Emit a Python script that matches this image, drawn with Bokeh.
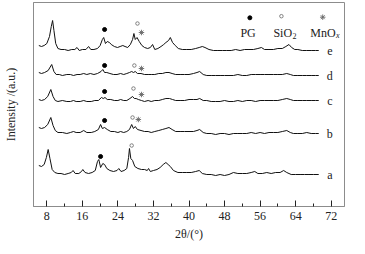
from bokeh.plotting import figure
from bokeh.models import FixedTicker, ColumnDataSource
from bokeh.core.properties import value
from bokeh.embed import file_html
from bokeh.resources import INLINE

# ---- data (2theta in degrees, intensity in a.u., curves stacked) ----
tt_a = [6.2, 6.8, 7.4, 7.9, 8.3, 8.7, 9.2, 9.8, 10.5, 11.2, 12.0, 12.8, 13.5, 13.9, 14.4, 15.2,
        15.8, 16.1, 16.6, 17.4, 18.2, 18.9, 19.4, 19.7, 20.1, 20.6, 21.0, 21.5, 22.2, 23.0, 23.8,
        24.2, 24.7, 25.4, 26.0, 26.4, 26.6, 26.9, 27.3, 27.8, 28.5, 29.3, 30.0, 30.6, 30.9, 31.3,
        32.0, 32.8, 33.5, 34.2, 34.8, 35.3, 35.8, 36.5, 37.5, 38.5, 39.5, 40.5, 41.5, 42.3, 43.0,
        44.0, 45.0, 46.0, 47.0, 48.0, 49.0, 50.0, 51.0, 52.0, 53.0, 54.0, 54.8, 55.5, 56.5, 57.5,
        58.5, 59.5, 60.5, 61.3, 62.0, 63.0, 64.0, 65.0, 66.0, 67.0, 68.0, 69.2]
int_a = [41, 40, 42, 49, 57, 48, 37, 34, 33, 33, 32, 33, 34, 36, 33, 33,
         35, 37, 34, 33, 34, 36, 45, 47, 39, 43, 42, 38, 36, 35, 36,
         38, 35, 36, 38, 49, 58, 48, 46, 40, 38, 37, 37, 36, 38, 35,
         36, 37, 39, 42, 44, 42, 40, 36, 34, 34, 34, 34, 35, 36, 33,
         32, 32, 31, 32, 31, 32, 34, 33, 33, 33, 34, 35, 33, 33, 34,
         33, 34, 34, 36, 34, 32, 32, 32, 32, 32, 32, 32]

tt_b = [6.2, 6.8, 7.5, 8.2, 8.9, 9.4, 9.9, 10.5, 11.5, 12.5, 13.3, 14.0, 14.6, 15.5, 16.3, 17.0,
        18.0, 18.8, 19.6, 20.1, 20.5, 21.0, 21.6, 22.4, 23.2, 24.0, 24.6, 25.3, 26.0, 26.6, 27.1,
        27.5, 27.9, 28.4, 29.2, 30.0, 30.8, 31.5, 32.3, 33.2, 34.0, 34.8, 35.5, 36.2, 37.0, 38.0,
        39.0, 40.0, 41.0, 41.8, 42.4, 43.2, 44.0, 45.0, 46.0, 47.0, 48.0, 49.0, 50.0, 51.0, 52.0,
        53.0, 54.0, 55.0, 56.0, 57.0, 58.0, 59.0, 60.0, 61.0, 62.0, 62.8, 63.5, 64.5, 65.5, 66.5,
        67.5, 68.5, 69.2]
int_b = [79, 78, 79, 82, 89, 81, 76, 74, 74, 73, 74, 75, 74, 74, 76, 74,
         74, 75, 77, 82, 78, 79, 77, 75, 75, 74, 75, 74, 75, 77, 82,
         78, 80, 77, 76, 75, 75, 74, 75, 76, 77, 78, 79, 77, 75, 75,
         75, 75, 75, 76, 77, 74, 73, 73, 72, 73, 73, 72, 73, 73, 73,
         73, 74, 73, 74, 73, 74, 74, 74, 75, 76, 74, 73, 73, 73, 74,
         73, 73, 73]

tt_c = [6.2, 6.8, 7.5, 8.2, 8.9, 9.4, 9.9, 10.5, 11.5, 12.5, 13.3, 14.0, 14.6, 15.5, 16.3, 17.0,
        18.0, 18.8, 19.6, 20.3, 20.7, 21.1, 21.6, 22.4, 23.2, 24.0, 24.6, 25.3, 26.0, 26.7, 27.3,
        27.7, 28.1, 28.6, 29.3, 30.0, 30.8, 31.5, 32.3, 33.2, 34.0, 34.8, 35.6, 36.3, 37.0, 38.0,
        39.0, 40.0, 41.0, 41.8, 42.4, 43.2, 44.0, 45.0, 46.0, 47.0, 48.0, 49.0, 50.0, 51.0, 52.0,
        53.0, 54.0, 55.0, 56.0, 57.0, 58.0, 59.0, 60.0, 61.0, 62.0, 62.8, 63.5, 64.5, 65.5, 66.5,
        67.5, 68.5, 69.2]
int_c = [107, 106, 107, 110, 117, 110, 106, 105, 106, 105, 105, 106, 105, 105, 106, 105,
         105, 106, 106, 109, 108, 109, 107, 107, 106, 106, 107, 106, 106, 108, 110,
         108, 108, 107, 106, 105, 106, 105, 106, 106, 107, 108, 108, 107, 106, 106,
         106, 107, 107, 107, 108, 106, 106, 105, 105, 105, 106, 105, 105, 106, 105,
         106, 106, 105, 106, 106, 106, 106, 106, 107, 108, 107, 106, 106, 106, 106,
         106, 106, 106]

tt_d = [6.2, 6.8, 7.5, 8.3, 9.1, 9.6, 10.1, 10.8, 11.5, 12.5, 13.3, 14.0, 14.8, 15.5, 16.3, 17.0,
        17.8, 18.6, 19.4, 20.2, 20.6, 21.0, 21.5, 22.2, 23.0, 23.8, 24.6, 25.3, 26.0, 26.6, 27.1,
        27.5, 27.9, 28.4, 29.2, 30.0, 30.8, 31.5, 32.3, 33.2, 34.0, 34.8, 35.5, 36.2, 37.0, 38.0,
        39.0, 40.0, 41.0, 41.8, 42.4, 43.2, 44.0, 45.0, 46.0, 47.0, 48.0, 49.0, 50.0, 51.0, 52.0,
        53.0, 54.0, 55.0, 56.0, 57.0, 58.0, 59.0, 60.0, 61.0, 62.0, 62.8, 63.5, 64.5, 65.5, 66.5,
        67.5, 68.5, 69.2]
int_d = [134, 133, 134, 136, 142, 135, 132, 132, 131, 132, 132, 131, 132, 132, 133, 132,
         133, 132, 133, 135, 137, 134, 134, 133, 132, 132, 133, 132, 133, 134, 135,
         134, 135, 133, 133, 132, 132, 132, 132, 133, 133, 134, 134, 133, 132, 132,
         132, 132, 133, 134, 135, 132, 131, 131, 131, 131, 131, 131, 131, 132, 131,
         131, 132, 132, 132, 132, 132, 132, 132, 132, 133, 132, 131, 131, 131, 131,
         131, 131, 131]

tt_e = [6.2, 6.8, 7.4, 8.0, 8.6, 9.0, 9.3, 9.6, 10.0, 10.5, 11.2, 12.0, 12.8, 13.6, 14.3, 14.8,
        15.3, 16.0, 16.8, 17.4, 17.9, 18.6, 19.4, 20.0, 20.5, 20.8, 21.2, 21.6, 22.1, 22.5, 23.2,
        23.9, 24.5, 25.1, 25.6, 26.2, 26.8, 27.3, 27.6, 27.9, 28.3, 28.8, 29.4, 30.0, 30.7, 31.3,
        31.8, 32.3, 33.0, 33.7, 34.3, 34.8, 35.4, 35.8, 36.3, 36.9, 37.6, 38.5, 39.5, 40.5, 41.5,
        42.3, 43.0, 43.6, 44.5, 45.5, 46.5, 47.5, 48.5, 49.5, 50.5, 51.5, 52.5, 53.5, 54.5, 55.5,
        56.3, 57.0, 58.0, 59.0, 60.0, 61.0, 61.8, 62.5, 63.1, 63.8, 64.5, 65.5, 66.5, 67.5, 68.5,
        69.2]
int_e = [161, 160, 161, 163, 170, 180, 186, 176, 163, 158, 157, 157, 156, 157, 157, 159,
         156, 157, 157, 160, 157, 157, 158, 161, 167, 169, 163, 165, 164, 162, 160,
         159, 160, 161, 160, 159, 162, 167, 173, 167, 169, 165, 161, 159, 158, 159,
         162, 157, 158, 160, 162, 164, 166, 169, 164, 161, 158, 157, 157, 157, 158,
         159, 160, 159, 157, 156, 156, 156, 156, 156, 157, 156, 157, 157, 157, 158,
         159, 157, 157, 157, 158, 158, 160, 162, 159, 157, 157, 156, 156, 156, 156,
         156]

curve_names = ["a", "b", "c", "d", "e"]

# phase markers on the curves
pg_tt = [20.1, 21.0, 21.0, 21.0, 21.0]
pg_int = [50, 86, 115, 141, 177]
sio2_tt = [27.1, 27.3, 27.5, 27.7, 28.4]
sio2_int = [61, 89, 118, 141, 183]
mnox_tt = [28.6, 29.3, 29.3, 29.3]
mnox_int = [87, 112, 138, 174]

x_ticks = [8, 16, 24, 32, 40, 48, 56, 64, 72]
x_minor = [12, 20, 28, 36, 44, 52, 60, 68]

FONT = "Liberation Serif"
GRAY = "#8c8c8c"
MARK = "#666666"

p = figure(frame_width=311, frame_height=204, x_range=(5, 75), y_range=(0, 204),
           output_backend="svg", toolbar_location=None,
           min_border_left=28, min_border_right=10, min_border_top=2, min_border_bottom=38)
p.xgrid.visible = False
p.ygrid.visible = False
p.outline_line_color = GRAY
p.outline_line_width = 1
p.background_fill_color = "white"
p.border_fill_color = "white"

# x axis
xa = p.xaxis[0]
xa.ticker = FixedTicker(ticks=x_ticks, minor_ticks=x_minor)
xa.major_tick_in = 6
xa.major_tick_out = 0
xa.minor_tick_in = 3
xa.minor_tick_out = 0
xa.major_tick_line_color = "#222222"
xa.minor_tick_line_color = "#222222"
xa.axis_line_color = GRAY
xa.major_label_text_font = FONT
xa.major_label_text_font_size = "12px"
xa.major_label_text_color = "#222222"
xa.major_label_standoff = 5
xa.axis_label = "2θ/(°)"
xa.axis_label_text_font = FONT
xa.axis_label_text_font_size = "12px"
xa.axis_label_text_font_style = "normal"
xa.axis_label_text_color = "#222222"
xa.axis_label_standoff = 4

# y axis: label only
ya = p.yaxis[0]
ya.ticker = FixedTicker(ticks=[])
ya.major_tick_in = 0
ya.major_tick_out = 0
ya.minor_tick_in = 0
ya.minor_tick_out = 0
ya.axis_line_color = GRAY
ya.axis_label = "Intensity /(a.u.)"
ya.axis_label_text_font = FONT
ya.axis_label_text_font_size = "12px"
ya.axis_label_text_font_style = "normal"
ya.axis_label_text_color = "#222222"
ya.axis_label_standoff = 16

# curves
series = [(tt_a, int_a), (tt_b, int_b), (tt_c, int_c), (tt_d, int_d), (tt_e, int_e)]
for tt, it in series:
    p.line(tt, it, line_color="#111111", line_width=1)

# curve labels at right end
lab_src = ColumnDataSource(dict(x=[71.7] * 5, y=[s[1][-1] for s in series], t=curve_names))
p.text(x="x", y="y", text="t", source=lab_src, text_font=value(FONT), text_font_size="12px",
       text_align="center", text_baseline="middle", text_color="#222222")

# phase markers
p.scatter(pg_tt, pg_int, marker="circle", size=4, fill_color="black", line_color="black")
p.scatter(sio2_tt, sio2_int, marker="circle", size=3.5, fill_color="white", line_color=MARK, line_width=0.8)
p.scatter(mnox_tt, mnox_int, marker="asterisk", size=5.5, line_color=MARK, line_width=0.9)

# legend (top right)
p.scatter([53.7], [188.7], marker="circle", size=4, fill_color="black", line_color="black")
p.scatter([60.8], [190.3], marker="circle", size=3.5, fill_color="white", line_color=MARK, line_width=0.8)
p.scatter([70.1], [189.3], marker="asterisk", size=5.5, line_color=MARK, line_width=0.9)
p.text(x=[53.3], y=[174], text=["PG"], text_font=value(FONT), text_font_size="12px",
       text_align="center", text_baseline="alphabetic", text_color="#222222")
p.text(x=[63.2], y=[174], text=["SiO"], text_font=value(FONT), text_font_size="12px",
       text_align="right", text_baseline="alphabetic", text_color="#222222")
p.text(x=[63.3], y=[171], text=["2"], text_font=value(FONT), text_font_size="8px",
       text_align="left", text_baseline="alphabetic", text_color="#222222")
p.text(x=[73.0], y=[174], text=["MnO"], text_font=value(FONT), text_font_size="12px",
       text_align="right", text_baseline="alphabetic", text_color="#222222")
p.text(x=[73.1], y=[171], text=["x"], text_font=value(FONT), text_font_size="8px",
       text_font_style="italic", text_align="left", text_baseline="alphabetic", text_color="#222222")

open("out.html", "w").write(file_html(p, INLINE))
